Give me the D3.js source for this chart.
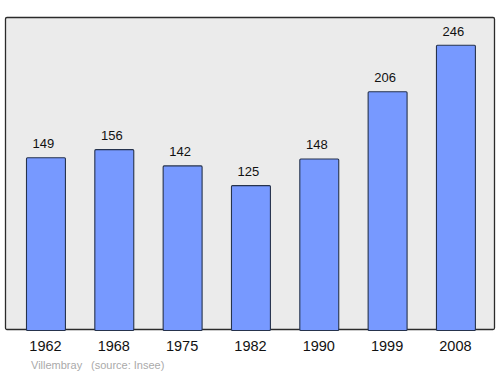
<!DOCTYPE html>
<html>
<head>
<meta charset="utf-8">
<script src="https://cdn.jsdelivr.net/npm/d3@7"></script>
<style>
  body { margin: 0; background: #fff; }
  text { font-family: "Liberation Sans", Arial, sans-serif; }
</style>
</head>
<body>
<svg id="chart" width="500" height="374"></svg>
<script>
// population by census year
const years = ["1962", "1968", "1975", "1982", "1990", "1999", "2008"];
const population = [149, 156, 142, 125, 148, 206, 246];
const place = "Villembray";
const source = "(source: Insee)";

const svg = d3.select("#chart");

const x = d3.scaleBand()
    .domain(years)
    .range([11.3, 489.6])
    .paddingInner(0.43)
    .paddingOuter(0.215);

const y = d3.scaleLinear()
    .domain([0, 270])
    .range([330, 17]);

// plot frame
svg.append("rect")
    .attr("x", 5.5).attr("y", 17.5)
    .attr("width", 489).attr("height", 312)
    .attr("rx", 1.5)
    .attr("fill", "#ebebeb")
    .attr("stroke", "#2b2b2b")
    .attr("stroke-width", 1.3);

const data = years.map((yr, i) => ({ year: yr, value: population[i] }));

svg.selectAll(".bar")
    .data(data)
  .enter().append("rect")
    .attr("class", "bar")
    .attr("x", d => x(d.year) + 0.5)
    .attr("y", d => y(d.value) + 0.5)
    .attr("width", x.bandwidth())
    .attr("height", d => 330 - y(d.value))
    .attr("rx", 1)
    .attr("fill", "#7799ff")
    .attr("stroke", "#26334d")
    .attr("stroke-width", 1.1);

// value labels
svg.selectAll(".val")
    .data(data)
  .enter().append("text")
    .attr("class", "val")
    .attr("x", d => x(d.year) + x.bandwidth() / 2 - 2)
    .attr("y", d => y(d.value) - 9)
    .attr("text-anchor", "middle")
    .attr("font-size", 13)
    .attr("fill", "#111")
    .text(d => d.value);

// x axis labels
const xAxis = d3.axisBottom(x).tickSize(0).tickPadding(11);
const gx = svg.append("g")
    .attr("transform", "translate(0,330)")
    .call(xAxis);
gx.select(".domain").remove();
gx.selectAll("text")
    .attr("font-size", 14.5)
    .attr("fill", "#111")
    .attr("font-family", "\"Liberation Sans\", Arial, sans-serif");

// footer
svg.append("text")
    .attr("x", 31).attr("y", 369)
    .attr("font-size", 11)
    .attr("fill", "#aaa")
    .text(place);
svg.append("text")
    .attr("x", 91).attr("y", 369)
    .attr("font-size", 11)
    .attr("fill", "#aaa")
    .text(source);
</script>
</body>
</html>
